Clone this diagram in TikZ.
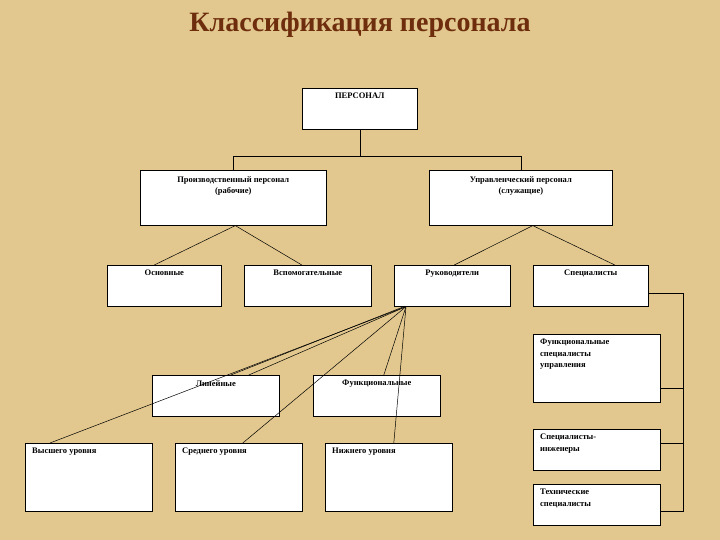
\documentclass[tikz,border=0pt]{standalone}
\usepackage{fontspec}
\setmainfont{Liberation Serif}
\usetikzlibrary{calc}
\definecolor{parch}{HTML}{E2C88E}
\definecolor{ttl}{HTML}{6E2E0E}
\tikzset{bx/.style={draw,fill=white,line width=0.6pt,inner sep=0pt},
 tx/.style={font=\bfseries\fontsize{8.5}{11.5}\selectfont,align=center,anchor=north,inner sep=2pt},
 txl/.style={font=\bfseries\fontsize{8.5}{11.5}\selectfont,align=left,anchor=north west,inner sep=2pt},
 ln/.style={line width=0.5pt}}
\newcommand{\bxx}[5]{\node[bx,minimum width=#4-#2,minimum height=#5-#3,anchor=north west] (#1) at (#2,#3) {};}
\begin{document}
\begin{tikzpicture}[x=1pt,y=-1pt]
\fill[parch] (0,0) rectangle (720,540);
\useasboundingbox (0,0) rectangle (720,540);
\node[font=\bfseries\fontsize{28}{30}\selectfont,text=ttl] (title) at (360,25) {Классификация персонала};
\bxx{p}{302}{88}{417}{129}
\bxx{pr}{140}{170}{326}{225}
\bxx{up}{429}{170}{612}{225}
\bxx{os}{107}{265}{221}{306}
\bxx{vs}{244}{265}{371}{306}
\bxx{ru}{394}{265}{510}{306}
\bxx{sp}{533}{265}{648}{306}
\bxx{li}{152}{375}{279}{416}
\bxx{fu}{313}{375}{440}{416}
\bxx{vy}{25}{443}{152}{511}
\bxx{sr}{175}{443}{302}{511}
\bxx{ni}{325}{443}{452}{511}
\bxx{fs}{533}{334}{660}{402}
\bxx{in}{533}{429}{660}{470}
\bxx{te}{533}{484}{660}{525}
\node[tx] (tp) at ($(p.north)+(0,3)$) {ПЕРСОНАЛ};
\node[tx] (tpr) at ($(pr.north)+(0,4)$) {Производственный персонал\\(рабочие)};
\node[tx] (tup) at ($(up.north)+(0,4)$) {Управленческий персонал\\(служащие)};
\node[tx] (tos) at ($(os.north)+(0,3)$) {Основные};
\node[tx] (tvs) at ($(vs.north)+(0,3)$) {Вспомогательные};
\node[tx] (tru) at ($(ru.north)+(0,3)$) {Руководители};
\node[tx] (tsp) at ($(sp.north)+(0,3)$) {Специалисты};
\node[tx] (tli) at ($(li.north)+(0,3)$) {Линейные};
\node[tx] (tfu) at ($(fu.north)+(0,3)$) {Функциональные};
\node[txl] (tvy) at ($(vy.north west)+(5,3)$) {Высшего уровня};
\node[txl] (tsr) at ($(sr.north west)+(5,3)$) {Среднего уровня};
\node[txl] (tni) at ($(ni.north west)+(5,3)$) {Нижнего уровня};
\node[txl] (tfs) at ($(fs.north west)+(5,3)$) {Функциональные\\специалисты\\управления};
\node[txl] (tin) at ($(in.north west)+(5,3)$) {Специалисты-\\инженеры};
\node[txl] (tte) at ($(te.north west)+(5,3)$) {Технические\\специалисты};
\draw[ln] (p.south) -- ++(0,27) -| (pr.north);
\draw[ln] (p.south) -- ++(0,27) -| (up.north);
\draw[ln] ($(pr.south)+(2,0)$) -- ($(os.north)+(-10,0)$);
\draw[ln] ($(pr.south)+(2,0)$) -- ($(vs.north)+(-6,0)$);
\draw[ln] ($(up.south)+(12,0)$) -- ($(ru.north)+(2,0)$);
\draw[ln] ($(up.south)+(12,0)$) -- ($(sp.north)+(24,0)$);
\coordinate (r0) at ($(ru.south west)+(12,0)$);
\draw[ln] (r0) -- ($(li.north)+(33,0)$);
\draw[ln] ($(r0)+(-2,0)$) -- ($(li.north)+(15,0)$);
\draw[ln] (r0) -- ($(vy.north west)+(25,0)$);
\draw[ln] (r0) -- ($(sr.north)+(4,0)$);
\draw[ln] (r0) -- ($(fu.north)+(7,0)$);
\draw[ln] (r0) -- ($(ni.north)+(5,0)$);
\coordinate (br) at (683,293);
\draw[ln] (sp.east |- br) -- (br) |- (te.east |- 0,511);
\draw[ln] (br |- 0,388) -- (fs.east |- 0,388);
\draw[ln] (br |- 0,443) -- (in.east |- 0,443);
\end{tikzpicture}
\end{document}
